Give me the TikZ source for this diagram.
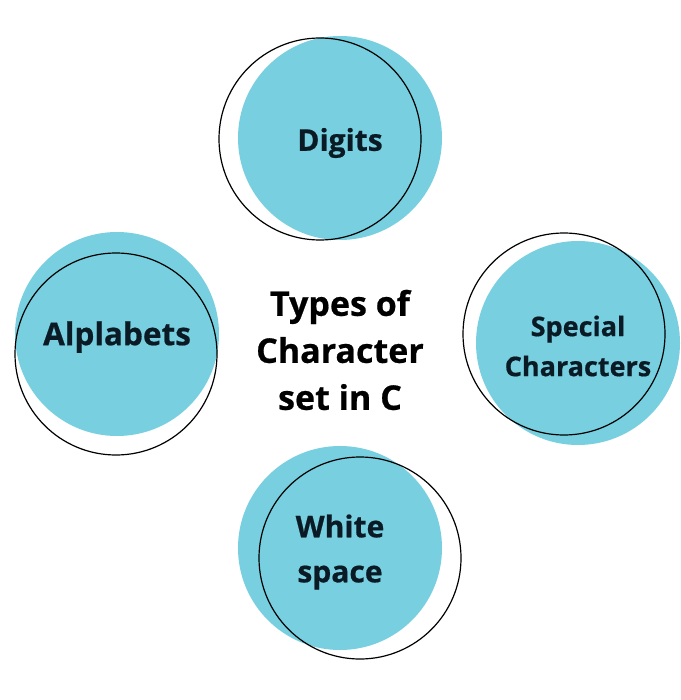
\documentclass[tikz,border=0pt]{standalone}
\usepackage{fontspec}
\setmainfont{Open Sans}[BoldFeatures={FakeBold=0.6}]
\definecolor{blobblue}{HTML}{77CFDF}
\definecolor{inkdark}{HTML}{0B1B26}
\tikzset{
  blob/.style={circle, fill=blobblue, minimum size=204pt, inner sep=0pt},
  ring/.style={circle, draw=black, line width=1.2pt, minimum size=202pt, inner sep=0pt},
  word/.style={align=center, text=inkdark, inner sep=0pt, font=\bfseries\fontsize{30}{45}\selectfont},
}
\begin{document}
\begin{tikzpicture}[x=1pt,y=-1pt]
\useasboundingbox (0,0) rectangle (680,700);
\node[blob] (digits) at (340,138) {};
\node[blob] (alpha) at (117,334) {};
\node[blob] (special) at (578,343) {};
\node[blob] (white) at (340,548) {};
\node[ring] (digitsring) at (320,139) {};
\node[ring] (alpharing) at (116,354) {};
\node[ring] (specialring) at (564,334) {};
\node[ring] (whitering) at (360,558) {};
\node[word] (digitstext) at (340,143) {Digits};
\node[word, font=\bfseries\fontsize{31.5}{45}\selectfont] (alphatext) at (117,337) {Alplabets};
\node[word, font=\bfseries\fontsize{27}{40}\selectfont] (specialtext) at (578,346) {Special\\Characters};
\node[word] (whitetext) at (340,552) {White\\space};
\node[align=center, font=\bfseries\fontsize{34}{47}\selectfont] (title) at (340,350) {Types of\\Character\\set in C};
\end{tikzpicture}
\end{document}
